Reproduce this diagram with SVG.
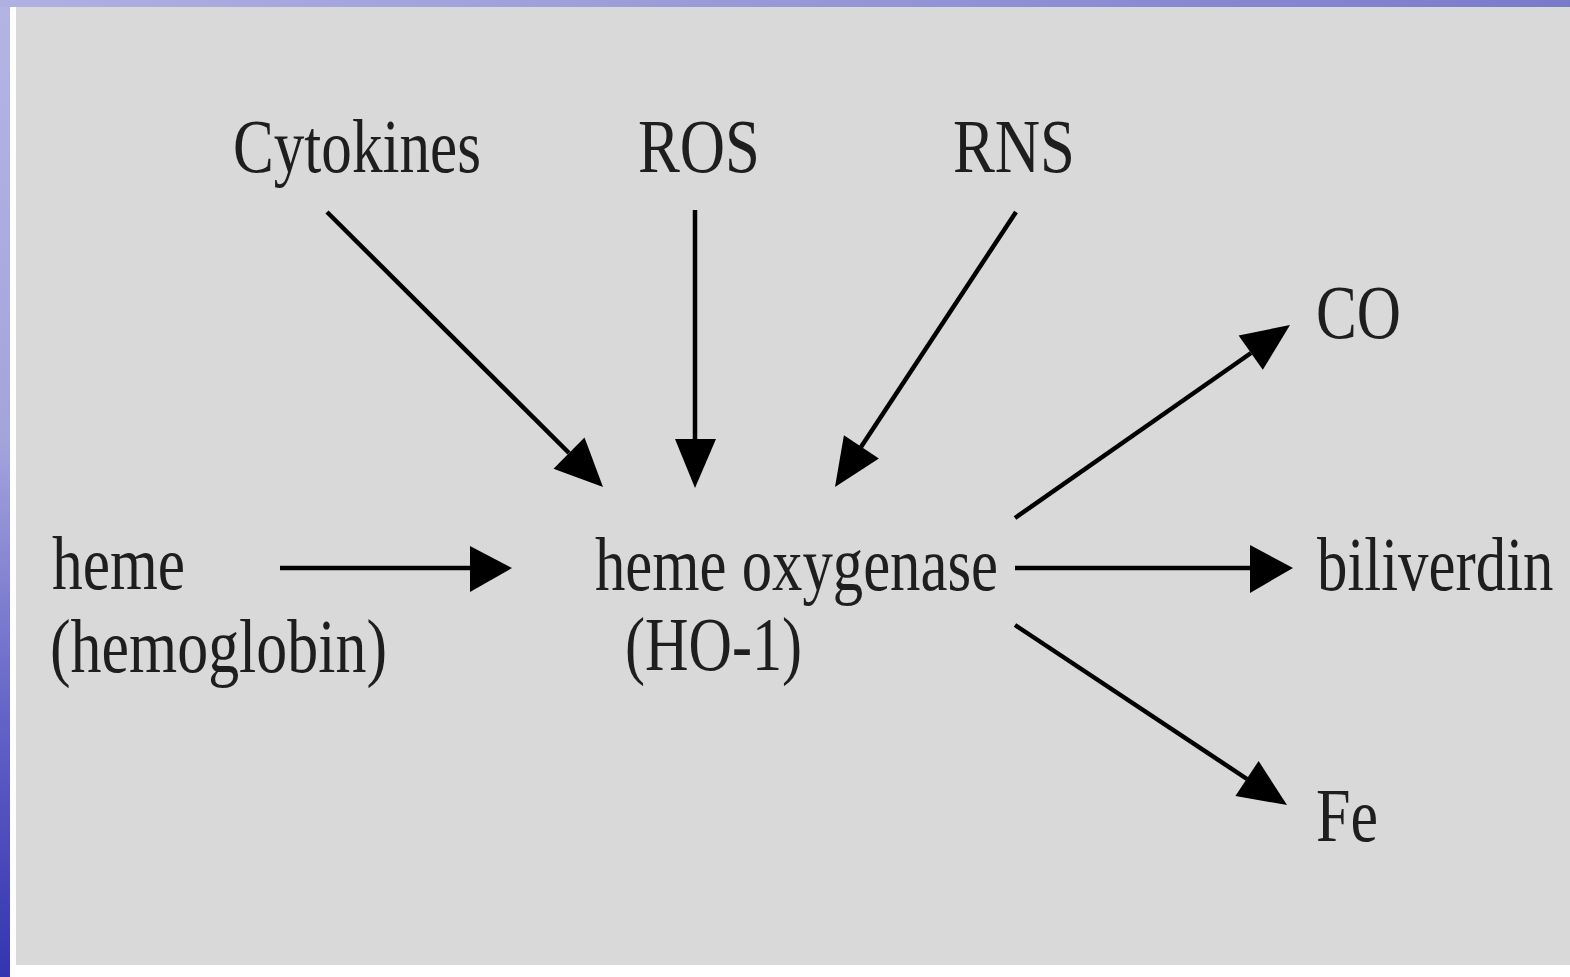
<svg xmlns="http://www.w3.org/2000/svg" width="1570" height="977" viewBox="0 0 1570 977">
<defs>
<linearGradient id="gl" x1="0" y1="0" x2="0" y2="1">
<stop offset="0" stop-color="#b4b4e4"/>
<stop offset="0.45" stop-color="#a4a4dc"/>
<stop offset="0.75" stop-color="#6060c6"/>
<stop offset="1" stop-color="#3434b0"/>
</linearGradient>
<linearGradient id="gt" x1="0" y1="0" x2="1" y2="0">
<stop offset="0" stop-color="#b0b0e2"/>
<stop offset="0.5" stop-color="#9898d8"/>
<stop offset="1" stop-color="#7a7acc"/>
</linearGradient>
<style>
.t{font-family:"Liberation Serif","Times New Roman",serif;font-size:77px;fill:#1e1e1e}
.c line{stroke:#000;stroke-width:4.5;stroke-linecap:butt}
.c polygon{fill:#000}
</style>
</defs>
<rect x="0" y="0" width="1570" height="977" fill="#ffffff"/>
<rect x="0" y="0" width="10" height="977" fill="url(#gl)"/>
<rect x="0" y="0" width="1570" height="7" fill="url(#gt)"/>
<rect x="16" y="7" width="1554" height="958" fill="#d9d9d9"/>

<g id="cytokines"><text class="t" x="233" y="172" textLength="248" lengthAdjust="spacingAndGlyphs">Cytokines</text></g>
<g id="ros"><text class="t" x="638" y="172" textLength="122" lengthAdjust="spacingAndGlyphs">ROS</text></g>
<g id="rns"><text class="t" x="953" y="172" textLength="122" lengthAdjust="spacingAndGlyphs">RNS</text></g>
<g id="co"><text class="t" x="1316" y="338" textLength="85" lengthAdjust="spacingAndGlyphs">CO</text></g>
<g id="biliverdin"><text class="t" x="0" y="0" transform="translate(1317,590) scale(0.79,1)">biliverdin</text></g>
<g id="fe"><text class="t" x="1316" y="841" textLength="62" lengthAdjust="spacingAndGlyphs">Fe</text></g>
<g id="heme">
<text class="t" x="52" y="589" textLength="133" lengthAdjust="spacingAndGlyphs">heme</text>
<text class="t" x="50" y="672" textLength="337" lengthAdjust="spacingAndGlyphs">(hemoglobin)</text>
</g>
<g id="ho1">
<text class="t" x="595" y="590" textLength="403" lengthAdjust="spacingAndGlyphs">heme oxygenase</text>
<text class="t" x="625" y="670" textLength="177" lengthAdjust="spacingAndGlyphs">(HO-1)</text>
</g>

<g id="connectors" class="c">
<line x1="280" y1="568" x2="472" y2="568"/>
<polygon points="512,568 470,546 470,592"/>

<line x1="327" y1="212" x2="569" y2="453"/>
<polygon points="603,487 553.5,468.7 584.5,437.5"/>

<line x1="695" y1="210" x2="695" y2="440"/>
<polygon points="695,488 675,439 716,439"/>

<line x1="1016" y1="212" x2="861" y2="447"/>
<polygon points="835,487 878.9,458.5 843.9,435.3"/>

<line x1="1015" y1="518" x2="1251" y2="353"/>
<polygon points="1290,325 1262.8,369.8 1238.6,335.4"/>

<line x1="1015" y1="568" x2="1252" y2="568"/>
<polygon points="1293,568 1250,545 1250,593"/>

<line x1="1015" y1="625" x2="1247" y2="779"/>
<polygon points="1287,805 1235.4,796 1258.6,761"/>
</g>
</svg>
